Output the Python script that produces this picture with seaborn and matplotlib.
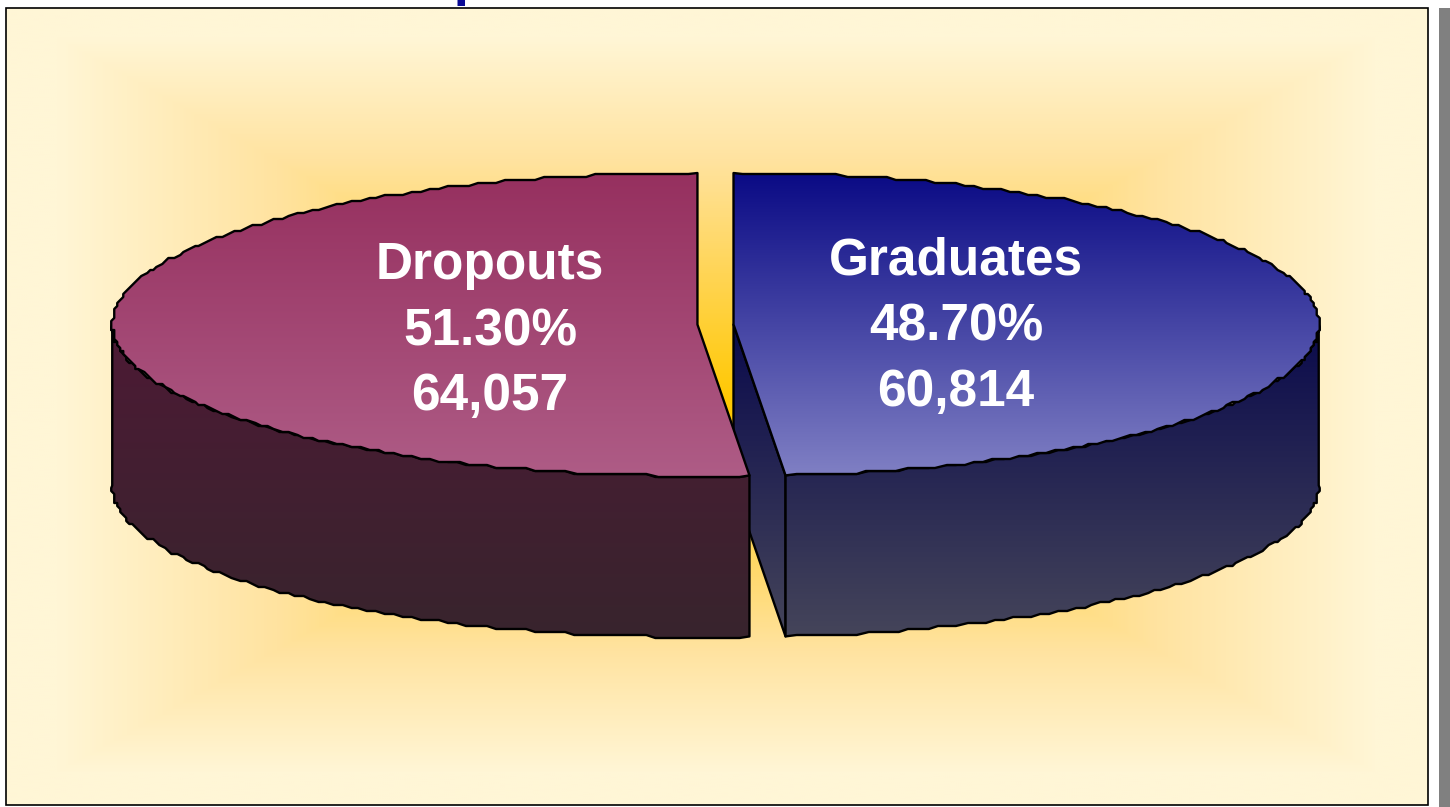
"""Graduates vs dropouts shown as an extruded pie with gradient fills."""
import matplotlib.pyplot as plt
import numpy as np
import seaborn as sns
from matplotlib.patches import Polygon, Rectangle

LABELS = ["Dropouts", "Graduates"]
SHARES = [51.30, 48.70]
COUNTS = [64057, 60814]
TITLE = "Dropouts"

TOP_COLORS = [["#96305F", "#AE5C86"], ["#0A0A85", "#8080C4"]]
WALL_COLORS = [["#4D1A35", "#38242D"], ["#0A0A4C", "#45455A"]]
GLOW_COLORS = ["#FFC800", "#FFD450", "#FFE3A0", "#FFF6D6"]

W, H = 1447, 807
PANEL = (6, 8, 1425, 805)
RX, RY, DEPTH = 584.0, 151.5, 161.0
CENTER_Y = 324.5
CENTER_X = [696.0, 732.0]
SEAM_SHIFT = 0.42

sns.set_theme(style="white")
plt.rcParams["font.family"] = ["Liberation Sans", "DejaVu Sans"]


def rim(cx, start, end, dy=0.0):
    # rounded vertices give the stepped outline of the original
    n = max(int(abs(end - start)), 2)
    t = np.radians(np.linspace(start, end, n))
    x = cx + RX * np.cos(t)
    y = CENTER_Y - RY * np.sin(t)
    x[1:-1] = np.round(x[1:-1] / 3) * 3
    y[1:-1] = np.round(y[1:-1] / 3) * 3
    return np.column_stack([x, y + dy])


def gradient(ax, pts, colors, y0, y1):
    cmap = sns.blend_palette(colors, as_cmap=True)
    poly = Polygon(pts, closed=True, fc="none", ec="black", lw=1.7, joinstyle="round", zorder=ax.zcount + 1)
    img = ax.imshow(
        np.linspace(0, 1, 256)[:, None],
        cmap=cmap,
        aspect="auto",
        extent=(0, W, y1, y0),
        interpolation="bilinear",
        zorder=ax.zcount,
    )
    ax.add_patch(poly)
    img.set_clip_path(poly)
    ax.zcount += 2


def main() -> None:
    fig = plt.figure(figsize=(14.5, 8.07), dpi=100, facecolor="white")
    ax = fig.add_axes([0, 0, 1, 1])
    ax.zcount = 2
    ax.axis("off")

    # panel background: rectangular glow out of the middle
    x0, y0, x1, y1 = PANEL
    xx, yy = np.meshgrid(np.linspace(x0, x1, 710), np.linspace(y0, y1, 400))
    glow = np.maximum(np.abs(xx - 715) / 710, np.abs(yy - 405) / 397) / 0.93
    panel = Rectangle((x0, y0), x1 - x0, y1 - y0, fc="none", ec="black", lw=1.2, zorder=1.5)
    ax.imshow(
        np.clip(glow, 0, 1),
        cmap=sns.blend_palette(GLOW_COLORS, as_cmap=True),
        aspect="auto",
        extent=(x0, x1, y1, y0),
        zorder=1,
    )
    ax.add_patch(panel)
    ax.add_patch(Rectangle((1436, 8), 11, H - 8, fc="#808080", ec="none", zorder=1))

    seam = 90 + 3.6 * SHARES[0] + SEAM_SHIFT
    left_c, right_c = CENTER_X
    wall_y = (CENTER_Y, CENTER_Y + RY + DEPTH)

    # right slice: cut face, outer wall, top
    seam_x = right_c + RX * np.cos(np.radians(seam))
    seam_y = CENTER_Y - RY * np.sin(np.radians(seam))
    cut = [(right_c, CENTER_Y), (seam_x, seam_y), (seam_x, seam_y + DEPTH), (right_c, CENTER_Y + DEPTH)]
    gradient(ax, cut, WALL_COLORS[1], *wall_y)

    arc = rim(right_c, seam - 360, 0)
    wall = np.vstack([arc, rim(right_c, 0, seam - 360, DEPTH)])
    gradient(ax, wall, WALL_COLORS[1], *wall_y)

    arc = rim(right_c, 90, seam - 360)
    top = np.vstack([[(right_c, CENTER_Y)], arc])
    gradient(ax, top, TOP_COLORS[1], CENTER_Y - RY, CENTER_Y + RY)

    # left slice: outer wall, top
    arc = rim(left_c, 180, seam)
    wall = np.vstack([arc, rim(left_c, seam, 180, DEPTH)])
    gradient(ax, wall, WALL_COLORS[0], *wall_y)

    arc = rim(left_c, 90, seam)
    top = np.vstack([[(left_c, CENTER_Y)], arc])
    gradient(ax, top, TOP_COLORS[0], CENTER_Y - RY, CENTER_Y + RY)

    # slice captions
    spots = [(489, [265, 332, 397]), (954, [261, 327, 392])]
    for label, share, count, (tx, tys) in zip(LABELS, SHARES, COUNTS, spots):
        lines = [label, f"{share:.2f}%", f"{count:,}"]
        for line, ty in zip(lines, tys):
            ax.text(tx, ty, line, color="white", fontsize=37.0, fontweight="bold",
                    ha="center", va="center", zorder=100)

    # only the tail of the heading's p is left inside the picture
    ax.text(358, -6.5, TITLE, color="#0A0A96", fontsize=40, fontweight="bold",
            ha="left", va="baseline", zorder=100, clip_on=False)

    ax.set_xlim(0, W)
    ax.set_ylim(H, 0)
    fig.savefig("out.png", dpi=100, facecolor="white")
    plt.close(fig)


if __name__ == "__main__":
    main()
